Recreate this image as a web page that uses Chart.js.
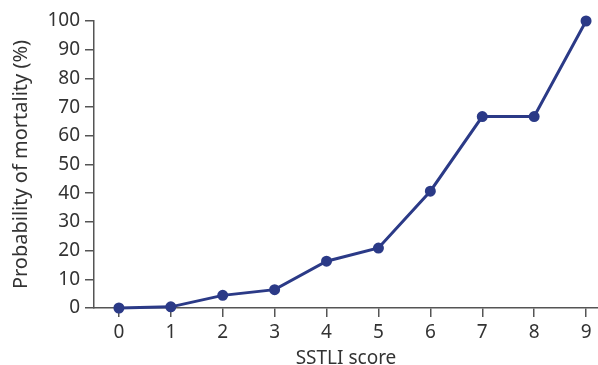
<!DOCTYPE html>
<html>
<head>
<meta charset="utf-8">
<script src="https://cdn.jsdelivr.net/npm/chart.js@4.4.1/dist/chart.umd.min.js"></script>
<style>
  html, body { margin: 0; padding: 0; background: #fff; }
  #wrap { width: 598px; height: 365px; }
</style>
</head>
<body>
<div id="wrap"><canvas id="c" width="598" height="365"></canvas></div>
<script>
// SSTLI score vs. probability of mortality
const scores = [0, 1, 2, 3, 4, 5, 6, 7, 8, 9];
const mortality = [0, 0.4, 4.4, 6.4, 16.3, 20.9, 40.7, 66.7, 66.7, 100];
const yTicks = [0, 10, 20, 30, 40, 50, 60, 70, 80, 90, 100];

const lineColor = '#2b3a87';
const axisColor = '#555555';
const textColor = '#333333';
const tickFont = { family: 'Noto Sans', size: 19 };

new Chart(document.getElementById('c'), {
  type: 'line',
  data: {
    datasets: [{
      data: scores.map((s, i) => ({ x: s, y: mortality[i] })),
      borderColor: lineColor,
      backgroundColor: lineColor,
      borderWidth: 3,
      pointRadius: 4,
      pointHoverRadius: 4,
      tension: 0,
      clip: false
    }]
  },
  options: {
    responsive: false,
    animation: false,
    layout: { autoPadding: false, padding: { top: 21, right: 0, left: 0, bottom: 0 } },
    plugins: { legend: { display: false }, tooltip: { enabled: false } },
    scales: {
      x: {
        type: 'linear',
        min: -0.48,
        max: 9.23,
        afterBuildTicks: s => { s.ticks = scores.map(v => ({ value: v })); },
        afterFit: s => { s.height = 57; },
        grid: { drawOnChartArea: false, drawTicks: true, tickLength: 9, color: axisColor, lineWidth: 1.5 },
        border: { color: axisColor, width: 1.5 },
        ticks: { color: textColor, font: tickFont, padding: 4, maxRotation: 0 },
        title: { display: true, text: 'SSTLI score', color: textColor, font: { family: 'Noto Sans', size: 19 }, padding: { top: 0, bottom: -5 } }
      },
      y: {
        min: 0,
        max: 100,
        afterBuildTicks: s => { s.ticks = yTicks.map(v => ({ value: v })); },
        afterFit: s => { s.width = 94; },
        grid: { drawOnChartArea: false, drawTicks: true, tickLength: 9, color: axisColor, lineWidth: 1.5 },
        border: { color: axisColor, width: 1.5 },
        ticks: { color: textColor, font: tickFont, padding: 5 },
        title: { display: true, text: 'Probability of mortality (%)', color: textColor, font: { family: 'Noto Sans', size: 20 }, padding: { top: 9, bottom: 0 } }
      }
    }
  }
});
</script>
</body>
</html>
